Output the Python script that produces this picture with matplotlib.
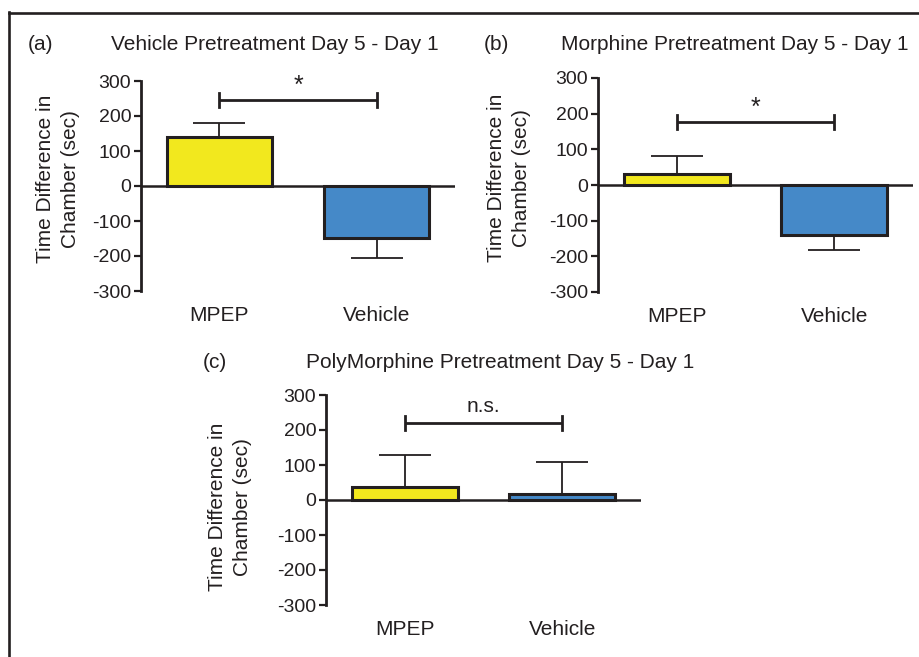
import matplotlib
matplotlib.use('Agg')
import matplotlib.pyplot as plt
from matplotlib.lines import Line2D

plt.rcParams['font.family'] = ['Liberation Sans', 'DejaVu Sans']

groups = ['MPEP', 'Vehicle']
panel_labels = ['(a)', '(b)', '(c)']
titles = ['Vehicle Pretreatment Day 5 - Day 1',
          'Morphine Pretreatment Day 5 - Day 1',
          'PolyMorphine Pretreatment Day 5 - Day 1']

# mean time difference (sec) and error (sem) for each panel
means_a = [140, -149]
errs_a = [40, 56]
means_b = [30, -140]
errs_b = [50, 42]
means_c = [38, 18]
errs_c = [90, 90]

sig_labels = ['*', '*', 'n.s.']
sig_heights = [245, 177, 220]

yticks = [-300, -200, -100, 0, 100, 200, 300]
ylabel = 'Time Difference in\nChamber (sec)'

ink = '#231f20'
bar_colors = ['#f2e81e', '#4589c8']

W, H = 920, 657
fig = plt.figure(figsize=(W / 100, H / 100), dpi=100)

# outer frame (left and top only, the rest is cropped)
fig.add_artist(Line2D([9.5 / W, 9.5 / W], [0, 1 - 12 / H], color=ink, lw=1.9))
fig.add_artist(Line2D([9.5 / W, 1], [1 - 12.5 / H, 1 - 12.5 / H], color=ink, lw=1.9))

# axes boxes in pixels: left, right, top, bottom
boxes = [(141, 455, 81, 291), (598, 913, 78, 292), (326, 641, 395, 605)]
label_pos = [(-0.265, 0.533), (-0.283, 0.533), (-0.305, 0.467)]
head_pos = [(28, 275, 45), (484, 735, 45), (203, 500, 362)]
all_means = [means_a, means_b, means_c]
all_errs = [errs_a, errs_b, errs_c]

for i in range(3):
    l, r, t, b = boxes[i]
    ax = fig.add_axes([l / W, 1 - b / H, (r - l) / W, (b - t) / H])
    means = all_means[i]
    errs = all_errs[i]
    x = range(len(groups))

    lower = [e if m < 0 else 0 for m, e in zip(means, errs)]
    upper = [e if m >= 0 else 0 for m, e in zip(means, errs)]
    ax.errorbar(x, means, yerr=[lower, upper], fmt='none', ecolor=ink,
                elinewidth=1.3, capsize=19, capthick=1.3, zorder=1)
    ax.bar(x, means, width=0.67, color=bar_colors, edgecolor=ink,
           linewidth=2.2, zorder=2)
    ax.axhline(0, color=ink, lw=1.8, zorder=3)

    # significance bracket
    s = sig_heights[i]
    ax.plot([0, 1], [s, s], color=ink, lw=2.0, solid_capstyle='butt')
    ax.plot([0, 0], [s - 20, s + 20], color=ink, lw=2.0)
    ax.plot([1, 1], [s - 20, s + 20], color=ink, lw=2.0)
    if sig_labels[i] == '*':
        ax.text(0.5, s + 6, '*', ha='center', va='bottom', fontsize=18, color=ink)
    else:
        ax.text(0.5, s + 20, sig_labels[i], ha='center', va='bottom', fontsize=15, color=ink)

    ax.set_xlim(-0.5, 1.5)
    ax.set_ylim(-300, 300)
    ax.set_yticks(yticks)
    ax.set_yticklabels([str(v) for v in yticks], fontsize=14, color=ink)
    ax.set_xticks(list(x))
    ax.set_xticklabels(groups, fontsize=15, color=ink)
    ax.tick_params(axis='x', length=0, pad=11)
    ax.tick_params(axis='y', length=5, width=1.6, color=ink, pad=2)
    for side in ['top', 'right', 'bottom']:
        ax.spines[side].set_visible(False)
    ax.spines['left'].set_linewidth(2.0)
    ax.spines['left'].set_color(ink)
    ax.patch.set_alpha(0)

    ax.set_ylabel(ylabel, fontsize=15, color=ink, linespacing=1.4)
    ax.yaxis.set_label_coords(*label_pos[i])
    ax.yaxis.label.set_va('center')

    px, tx, ty = head_pos[i]
    fig.text(px / W, 1 - ty / H, panel_labels[i], ha='left', va='center', fontsize=15, color=ink)
    fig.text(tx / W, 1 - ty / H, titles[i], ha='center', va='center', fontsize=15, color=ink)

fig.savefig('out.png', dpi=100)
